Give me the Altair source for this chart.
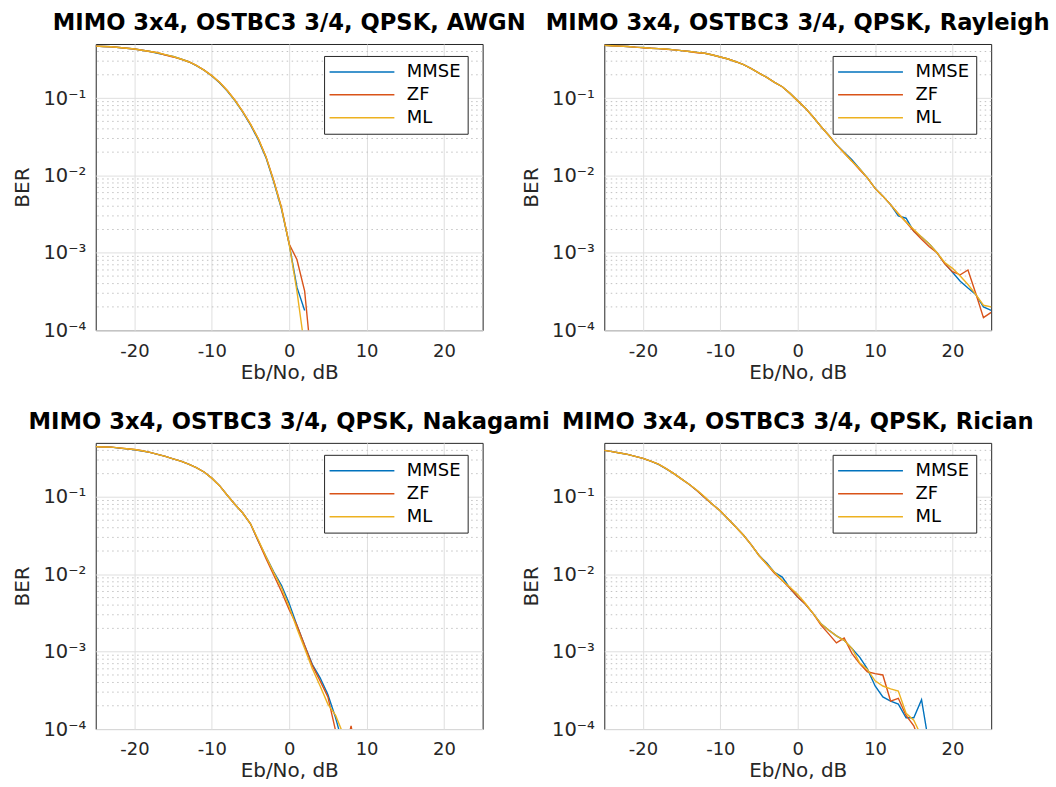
import altair as alt
import pandas as pd

# ---------------- data ----------------
x_db = list(range(-25, 26))  # Eb/No, dB
detectors = ["MMSE", "ZF", "ML"]
colors = ["#0072BD", "#D95319", "#EDB120"]
x_ticks = [-20, -10, 0, 10, 20]
y_ticks = [1e-4, 1e-3, 1e-2, 1e-1]
minor_grid = [k * 10.0 ** e for e in (-4, -3, -2, -1) for k in range(2, 10) if k * 10.0 ** e < 0.46]

titles = [
    "MIMO 3x4, OSTBC3 3/4, QPSK, AWGN",
    "MIMO 3x4, OSTBC3 3/4, QPSK, Rayleigh",
    "MIMO 3x4, OSTBC3 3/4, QPSK, Nakagami",
    "MIMO 3x4, OSTBC3 3/4, QPSK, Rician",
]

awgn_mmse = [0.47, 0.465, 0.46, 0.45, 0.44, 0.43, 0.415, 0.40, 0.38, 0.362,
             0.345, 0.32, 0.295, 0.263, 0.23, 0.193, 0.158, 0.123, 0.092, 0.066,
             0.045, 0.029, 0.017, 0.0083, 0.0037, 0.0013, 3.6e-4, 1.8e-4] + [None] * 23
awgn_zf = [0.47, 0.465, 0.46, 0.45, 0.44, 0.43, 0.415, 0.40, 0.385, 0.36,
           0.34, 0.318, 0.295, 0.265, 0.23, 0.195, 0.16, 0.125, 0.094, 0.067,
           0.046, 0.030, 0.0175, 0.0086, 0.0039, 0.0013, 8.2e-4, 3.2e-4, 3e-5] + [None] * 22
awgn_ml = [0.47, 0.465, 0.46, 0.45, 0.44, 0.43, 0.415, 0.40, 0.385, 0.365,
           0.345, 0.32, 0.295, 0.265, 0.23, 0.195, 0.16, 0.125, 0.093, 0.067,
           0.046, 0.030, 0.0175, 0.0085, 0.0038, 0.0013, 3.2e-4, 6e-5] + [None] * 23

ray_mmse = [0.48, 0.475, 0.47, 0.465, 0.455, 0.45, 0.44, 0.435, 0.43, 0.42,
            0.41, 0.40, 0.39, 0.38, 0.36, 0.34, 0.32, 0.295, 0.27, 0.24,
            0.21, 0.185, 0.16, 0.14, 0.115, 0.092, 0.074, 0.057, 0.043, 0.033,
            0.025, 0.020, 0.016, 0.0122, 0.0093, 0.0068, 0.0054, 0.0042, 0.0030, 0.0028,
            0.0019, 0.0016, 0.0013, 0.0010, 7.3e-4, 5.6e-4, 4.3e-4, 3.5e-4, 2.9e-4, 2.0e-4, 1.8e-4]
ray_zf = [0.48, 0.475, 0.47, 0.465, 0.455, 0.445, 0.44, 0.435, 0.428, 0.42,
          0.41, 0.40, 0.385, 0.38, 0.36, 0.34, 0.32, 0.295, 0.27, 0.24,
          0.21, 0.185, 0.16, 0.14, 0.115, 0.092, 0.074, 0.057, 0.043, 0.033,
          0.025, 0.0195, 0.0153, 0.0118, 0.0093, 0.0068, 0.0054, 0.0042, 0.0032, 0.0025,
          0.0019, 0.0015, 0.0012, 0.0010, 7.2e-4, 5.7e-4, 5.2e-4, 6.0e-4, 3.0e-4, 1.45e-4, 1.7e-4]
ray_ml = [0.48, 0.475, 0.47, 0.465, 0.455, 0.45, 0.44, 0.435, 0.43, 0.42,
          0.41, 0.40, 0.39, 0.38, 0.36, 0.34, 0.32, 0.295, 0.27, 0.24,
          0.21, 0.185, 0.16, 0.14, 0.115, 0.092, 0.074, 0.057, 0.043, 0.033,
          0.025, 0.0195, 0.0153, 0.0122, 0.0093, 0.0068, 0.0054, 0.0042, 0.0032, 0.0025,
          0.0020, 0.0016, 0.0013, 0.0010, 7.5e-4, 6.3e-4, 5.0e-4, 3.9e-4, 2.9e-4, 2.1e-4, 2.0e-4]

nak_mmse = [0.447, 0.443, 0.44, 0.428, 0.418, 0.408, 0.393, 0.377, 0.355, 0.335,
            0.31, 0.29, 0.265, 0.24, 0.21, 0.175, 0.14, 0.105, 0.08, 0.062,
            0.045, 0.027, 0.017, 0.0108, 0.0072, 0.0042, 0.0022, 0.0012, 6.8e-4, 4.6e-4,
            2.8e-4, 1.4e-4, 6e-5] + [None] * 18
nak_zf = [0.447, 0.443, 0.44, 0.43, 0.42, 0.41, 0.395, 0.377, 0.355, 0.335,
          0.31, 0.29, 0.265, 0.24, 0.21, 0.175, 0.14, 0.105, 0.08, 0.062,
          0.045, 0.027, 0.016, 0.0098, 0.006, 0.0035, 0.0022, 0.0012, 6.6e-4, 4.2e-4,
          2.6e-4, 9.5e-5, 4e-5, 1.1e-4, 3e-5] + [None] * 16
nak_ml = [0.447, 0.443, 0.44, 0.43, 0.42, 0.41, 0.395, 0.377, 0.355, 0.335,
          0.31, 0.29, 0.265, 0.24, 0.21, 0.175, 0.14, 0.105, 0.08, 0.062,
          0.045, 0.028, 0.017, 0.0105, 0.0067, 0.0038, 0.0020, 0.0011, 6.0e-4, 3.6e-4,
          2.1e-4, 1.5e-4, 8.5e-5] + [None] * 18

ric_mmse = [0.40, 0.385, 0.37, 0.355, 0.335, 0.315, 0.29, 0.263, 0.23, 0.20,
            0.17, 0.145, 0.12, 0.098, 0.08, 0.066, 0.052, 0.041, 0.032, 0.024,
            0.0175, 0.014, 0.0106, 0.0092, 0.0066, 0.0051, 0.0041, 0.0031, 0.0023, 0.0019,
            0.0016, 0.0014, 0.0011, 8.5e-4, 6.0e-4, 3.6e-4, 2.6e-4, 2.3e-4, 2.1e-4, 1.4e-4,
            1.4e-4, 2.4e-4, 6e-5] + [None] * 8
ric_zf = [0.40, 0.385, 0.37, 0.355, 0.335, 0.315, 0.29, 0.265, 0.232, 0.20,
          0.17, 0.145, 0.12, 0.098, 0.08, 0.066, 0.052, 0.041, 0.032, 0.024,
          0.0175, 0.0135, 0.0103, 0.0083, 0.0066, 0.0051, 0.0041, 0.0031, 0.0022, 0.0017,
          0.0013, 0.0015, 9.5e-4, 7.0e-4, 5.5e-4, 5.2e-4, 5.0e-4, 2.3e-4, 2.5e-4, 1.5e-4,
          1.1e-4, 6e-5] + [None] * 9
ric_ml = [0.40, 0.385, 0.37, 0.355, 0.335, 0.315, 0.29, 0.265, 0.232, 0.20,
          0.17, 0.145, 0.122, 0.10, 0.08, 0.066, 0.052, 0.041, 0.032, 0.024,
          0.0175, 0.0135, 0.0106, 0.0083, 0.0068, 0.0055, 0.0042, 0.0031, 0.0023, 0.0019,
          0.0016, 0.0014, 0.0011, 7.2e-4, 5.9e-4, 4.2e-4, 3.6e-4, 3.3e-4, 3.1e-4, 1.6e-4,
          1.3e-4, 8e-5] + [None] * 9

series = [
    (awgn_mmse, awgn_zf, awgn_ml),
    (ray_mmse, ray_zf, ray_ml),
    (nak_mmse, nak_zf, nak_ml),
    (ric_mmse, ric_zf, ric_ml),
]

# ---------------- chart ----------------
FONT = "DejaVu Sans"
y_label_expr = (
    "round(log(datum.value)/LN10) == -1 ? '10\u207b\u00b9' : "
    "round(log(datum.value)/LN10) == -2 ? '10\u207b\u00b2' : "
    "round(log(datum.value)/LN10) == -3 ? '10\u207b\u00b3' : '10\u207b\u2074'"
)


def y_axis():
    return alt.Axis(values=y_ticks, title="BER", labelExpr=y_label_expr,
                    labelFontSize=19.5, labelPadding=10, titlePadding=10)


def panel(title, mmse, zf, ml):
    n = len(x_db)
    df = pd.DataFrame({
        "x": x_db * 3,
        "BER": list(mmse) + list(zf) + list(ml),
        "Detector": ["MMSE"] * n + ["ZF"] * n + ["ML"] * n,
    })
    yscale = alt.Scale(type="log", domain=[1e-4, 0.5], nice=False)
    xscale = alt.Scale(domain=[-25, 25], nice=False)

    minor = alt.Chart(pd.DataFrame({"BER": minor_grid})).mark_rule(
        color="#c2c2c2", strokeDash=[1.5, 3.5], strokeWidth=1
    ).encode(y=alt.Y("BER:Q", scale=yscale, axis=y_axis()))

    lines = alt.Chart(df).mark_line(strokeWidth=1.4, clip=True).encode(
        x=alt.X("x:Q", scale=xscale,
                axis=alt.Axis(values=x_ticks, title="Eb/No, dB",
                              labelExpr="toString(datum.value)",
                              labelFontSize=18, labelPadding=12, titlePadding=2)),
        y=alt.Y("BER:Q", scale=yscale, axis=y_axis()),
        color=alt.Color("Detector:N",
                        scale=alt.Scale(domain=detectors, range=colors),
                        legend=alt.Legend(orient="none", legendX=229, legendY=12,
                                          title=None, symbolType="M-5,0H5",
                                          symbolSize=169, symbolStrokeWidth=1.5,
                                          symbolOffset=22, labelOffset=36,
                                          labelFontSize=18, labelFont=FONT,
                                          labelColor="#000000",
                                          strokeColor="#262626", fillColor="white",
                                          padding=7, rowPadding=5)),
    )
    return alt.layer(minor, lines).properties(
        width=388, height=287,
        title=alt.TitleParams(title, fontSize=22.7, font=FONT, fontWeight="bold",
                              color="#000000", offset=9, frame="group", anchor="middle"),
    )


panels = [panel(t, *s) for t, s in zip(titles, series)]

chart = alt.concat(
    *panels, columns=2, spacing={"row": 113, "column": 122}, bounds="flush"
).resolve_scale(
    color="independent"
).configure_view(
    stroke="#262626", strokeWidth=1
).configure_axis(
    labelFont=FONT, titleFont=FONT, labelColor="#262626", titleColor="#262626",
    titleFontSize=20, titleFontWeight="normal",
    grid=True, gridColor="#dfdfdf", gridWidth=1,
    ticks=False, domain=False,
).properties(
    padding={"left": 12, "top": 10, "right": 5, "bottom": 5},
    background="white",
)

chart.save("out.html", embed_options={"renderer": "svg", "actions": False})
